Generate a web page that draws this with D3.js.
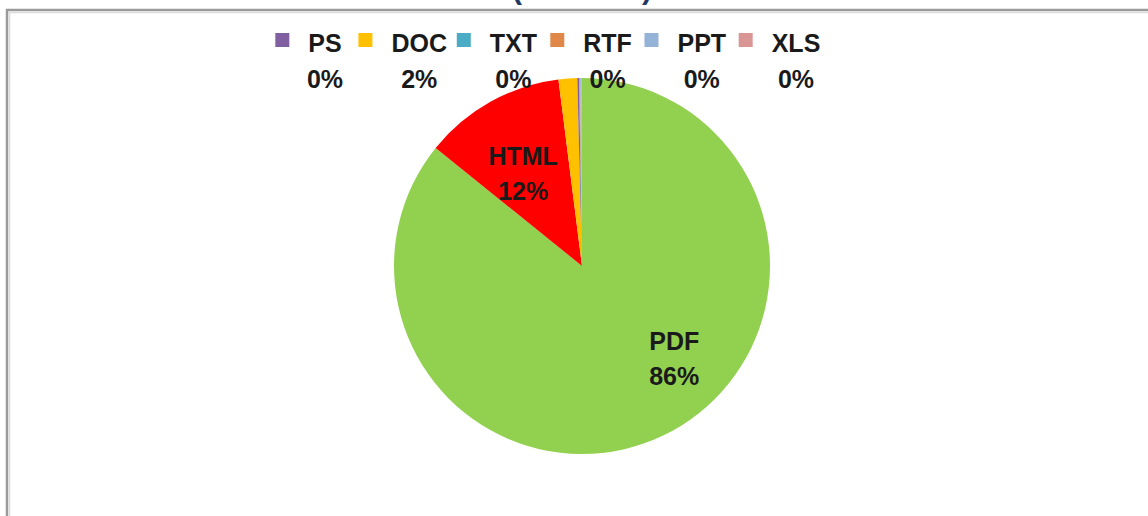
<!DOCTYPE html>
<html>
<head>
<meta charset="UTF-8">
<title>file types</title>
<script src="https://d3js.org/d3.v7.min.js"></script>
<style>
  body { margin: 0; background: #fff; }
  svg { display: block; }
  .lbl { font-family: "Liberation Sans", Arial, sans-serif; font-weight: bold; font-size: 25px; fill: #1a1a1a; }
</style>
</head>
<body>
<svg width="1148" height="516"></svg>
<script>
// slices, clockwise from 12 o'clock (percent)
var types  = ["PDF", "HTML", "DOC", "PS", "TXT", "RTF", "PPT", "XLS"];
var shares = [85.8, 12.2, 1.6, 0.15, 0.05, 0.05, 0.1, 0.05];
var colors = ["#92d050", "#ff0000", "#ffc000", "#7f5fa0", "#4bacc6", "#e0884a", "#95b3d7", "#d99694"];
// small slices get their labels in a row at the top
var topRow = ["PS", "DOC", "TXT", "RTF", "PPT", "XLS"];

var svg = d3.select("svg");
var cx = 582, cy = 266, R = 188;

// frame of the slide, cut off on right / bottom
svg.append("path")
  .attr("d", "M7,516 V10 H1148")
  .attr("fill", "none").attr("stroke", "#9a9a9a").attr("stroke-width", 2.5);
svg.append("path")
  .attr("d", "M9.5,516 V12.5 H1148")
  .attr("fill", "none").attr("stroke", "#dcdcdc").attr("stroke-width", 1.5);

// what is left of the title above the frame (cut off in the original too)
svg.append("text").attr("x", 512).attr("y", -1)
  .style("font", "bold 30px 'Liberation Sans', Arial").style("fill", "#1f3864").text("(");
svg.append("text").attr("x", 642).attr("y", -1)
  .style("font", "bold 30px 'Liberation Sans', Arial").style("fill", "#1f3864").text(")");

var data = types.map(function(t, i) { return {name: t, value: shares[i], color: colors[i]}; });

var pie = d3.pie().sort(null).value(function(d) { return d.value; });
var arc = d3.arc().innerRadius(0).outerRadius(R);
var arcs = pie(data);

var g = svg.append("g").attr("transform", "translate(" + cx + "," + cy + ")");
g.selectAll("path").data(arcs).enter().append("path")
  .attr("d", arc)
  .attr("fill", function(d) { return d.data.color; });

var pct = function(v) { return Math.round(v) + "%"; };

// labels inside the two big slices
arcs.filter(function(d) { return topRow.indexOf(d.data.name) < 0; }).forEach(function(d) {
  var big = d.data.name == "PDF";
  var a = (d.startAngle + d.endAngle) / 2 - (big ? 0.36 : 0.04);
  var r = big ? R * 0.68 : R * 0.6;
  var x = Math.sin(a) * r, y = -Math.cos(a) * r;
  var t = g.append("text").attr("class", "lbl").attr("text-anchor", "middle");
  t.append("tspan").attr("x", x).attr("y", y - 5).text(d.data.name);
  t.append("tspan").attr("x", x).attr("y", y + 30).text(pct(d.data.value));
});

// row of labels with keys for the tiny slices
var xs = d3.scalePoint().domain(topRow).range([325, 796]);
topRow.forEach(function(name) {
  var d = data[types.indexOf(name)];
  var x = xs(name);
  var t = svg.append("text").attr("class", "lbl").attr("text-anchor", "middle")
    .attr("x", x).attr("y", 52).text(name);
  var w = t.node().getComputedTextLength();
  svg.append("rect")
    .attr("x", x - w / 2 - 33).attr("y", 33)
    .attr("width", 14).attr("height", 14)
    .attr("fill", d.color);
  svg.append("text").attr("class", "lbl").attr("text-anchor", "middle")
    .attr("x", x).attr("y", 88).text(pct(d.value));
});
</script>
</body>
</html>
